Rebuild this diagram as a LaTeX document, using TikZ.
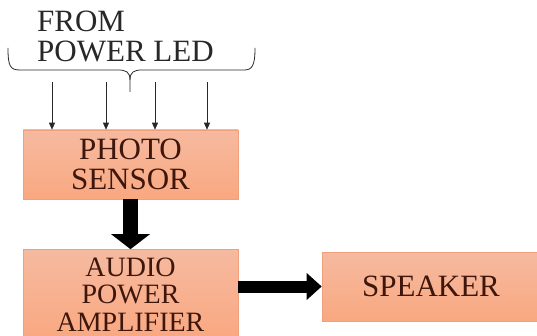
\documentclass[tikz,border=0pt]{standalone}
\usepackage{fontspec}
\setmainfont{Liberation Serif}
\usetikzlibrary{arrows.meta}
\definecolor{boxtop}{RGB}{246,186,160}
\definecolor{boxbot}{RGB}{249,168,128}
\definecolor{boxline}{RGB}{240,160,125}
\definecolor{boxtext}{RGB}{62,22,12}
\definecolor{inktext}{RGB}{40,40,40}
\begin{document}
\begin{tikzpicture}[x=1pt,y=-1pt,
  blockbox/.style={draw=boxline,line width=0.6pt,top color=boxtop,bottom color=boxbot,
    minimum width=215pt,minimum height=69pt,inner sep=0pt,align=center,text=boxtext,
    font=\fontsize{31}{30}\selectfont},
  thinarrow/.style={draw=inktext,line width=0.7pt,-{Triangle[width=6pt,length=7pt]}},
  fatarrow/.style={draw=black,line width=#1,-{Triangle[width=38pt,length=15pt]}}]
\path[use as bounding box] (0,0) rectangle (537,336);
% source text and brace
\node[anchor=base west,inner sep=0pt,align=left,text=inktext,font=\fontsize{31}{30}\selectfont] (src) at (37,62) {FROM\\POWER LED};
\draw[inktext,line width=0.8pt] (8,48) .. controls (8,66) and (10,70) .. (20,70) -- (118,70)
  .. controls (126,70) and (130,72) .. (130,80) -- (130,92);
\draw[inktext,line width=0.8pt] (130,80) .. controls (130,72) and (134,70) .. (142,70) -- (244,70)
  .. controls (252,70) and (255,66) .. (255,48);
% blocks
\node[blockbox] (photo) at (130.5,164.5) {PHOTO\\SENSOR};
\node[blockbox,minimum height=90pt,font=\fontsize{28}{27.5}\selectfont] (amp) at (130.5,294.5) {AUDIO\\POWER\\AMPLIFIER};
\node[blockbox,minimum width=218pt] (speaker) at (431,286.5) {SPEAKER};
% inputs
\foreach \i/\x in {1/52,2/106,3/155,4/207} {
  \coordinate (in\i) at (\x,82);
  \draw[thinarrow] (in\i) -- (in\i |- photo.north);
}
% signal path
\draw[fatarrow=15pt] (photo.south) -- (amp.north);
\draw[fatarrow=12pt,-{Triangle[width=26pt,length=15pt]}] (amp.east |- speaker.west) -- (speaker.west);
\end{tikzpicture}
\end{document}
